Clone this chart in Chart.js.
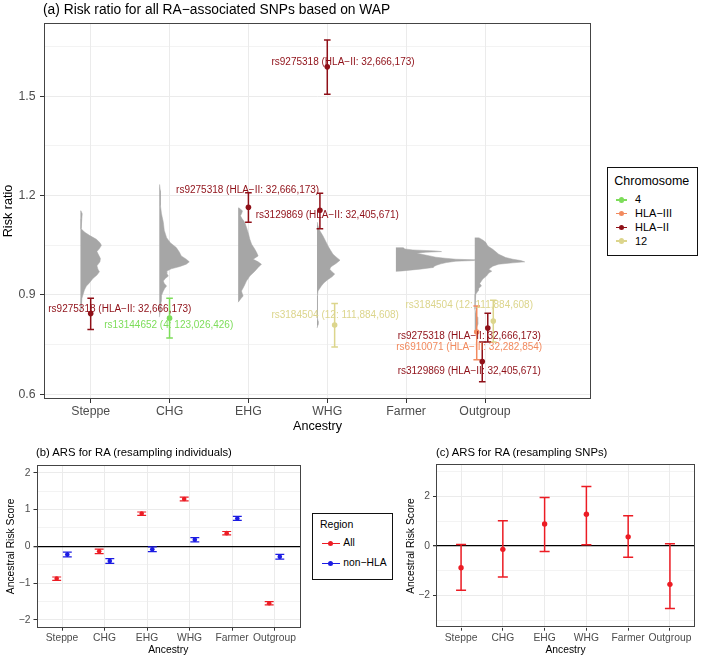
<!DOCTYPE html>
<html>
<head>
<meta charset="utf-8">
<title>Ancestral risk for RA</title>
<script src="https://cdn.jsdelivr.net/npm/chart.js@4.4.1/dist/chart.umd.min.js"></script>
<style>
  html, body { margin: 0; padding: 0; background: #fff; }
  #fig { position: relative; width: 701px; height: 661px; overflow: hidden; font-family: "Liberation Sans", Arial, sans-serif; }
  #fig canvas { position: absolute; }
  .ptitle { position: absolute; white-space: nowrap; color: #000; }
  .legend { position: absolute; box-sizing: border-box; border: 1px solid #111; background: #fff; }
  .legend div { position: absolute; white-space: nowrap; }
</style>
</head>
<body>
<div id="fig">
  <canvas id="chartA" width="600" height="440" style="left:0;top:0"></canvas>
  <canvas id="chartB" width="310" height="221" style="left:0;top:440px"></canvas>
  <canvas id="chartC" width="301" height="221" style="left:400px;top:440px"></canvas>
  <div class="ptitle" style="left:43px;top:1px;font-size:13.8px;line-height:17px">(a) Risk ratio for all RA−associated SNPs based on WAP</div>
  <div class="ptitle" style="left:36px;top:445px;font-size:11.3px;line-height:14px">(b) ARS for RA (resampling individuals)</div>
  <div class="ptitle" style="left:436px;top:445px;font-size:11.3px;line-height:14px">(c) ARS for RA (resampling SNPs)</div>
  <div id="legendA" class="legend" style="left:607px;top:167px;width:91px;height:89px"></div>
  <div id="legendB" class="legend" style="left:312px;top:513px;width:81px;height:67px"></div>
</div>
<script>
Chart.defaults.font.family = '"Liberation Sans", Arial, sans-serif';
Chart.defaults.color = '#4d4d4d';

const ancestries = ['Steppe', 'CHG', 'EHG', 'WHG', 'Farmer', 'Outgroup'];

// (a) risk ratio of the lead SNPs
const chromosomes = ['4', 'HLA−III', 'HLA−II', '12'];
const chromColors = ['#7ddd5a', '#f28a5e', '#8f1018', '#dcd58c'];
const snpIds = ['rs9275318', 'rs13144652', 'rs9275318', 'rs3129869', 'rs9275318', 'rs3184504', 'rs6910071', 'rs3129869', 'rs9275318', 'rs3184504'];
const snpChrom = ['HLA−II', '4', 'HLA−II', 'HLA−II', 'HLA−II', '12', 'HLA−III', 'HLA−II', 'HLA−II', '12'];
const snpBp = ['32,666,173', '123,026,426', '32,666,173', '32,405,671', '32,666,173', '111,884,608', '32,282,854', '32,405,671', '32,666,173', '111,884,608'];
const snpAncestry = ['Steppe', 'CHG', 'EHG', 'WHG', 'WHG', 'WHG', 'Outgroup', 'Outgroup', 'Outgroup', 'Outgroup'];
const snpRR = [0.844, 0.830, 1.165, 1.156, 1.589, 0.809, 0.788, 0.699, 0.800, 0.821];
const snpLo = [0.796, 0.770, 1.120, 1.100, 1.506, 0.743, 0.704, 0.638, 0.758, 0.758];
const snpHi = [0.890, 0.890, 1.209, 1.207, 1.670, 0.874, 0.867, 0.758, 0.845, 0.884];
// where the repelled labels ended up (axis units)
const labelX = [1.37, 1.99, 2.99, 4.0, 4.2, 4.1, 5.8, 5.8, 5.8, 5.8];
const labelY = [0.857, 0.809, 1.217, 1.141, 1.602, 0.838, 0.741, 0.670, 0.774, 0.870];
const rrMajor = [0.6, 0.9, 1.2, 1.5];
const rrMinor = [0.75, 1.05, 1.35, 1.65];

// WAP distribution per ancestry: [risk ratio, density]
const densSteppe = [[1.155, 0.4], [1.145, 1.8], [1.13, 1.4], [1.115, 0.6], [1.10, 0.8], [1.09, 4], [1.08, 9], [1.068, 16], [1.058, 19.5], [1.05, 21], [1.04, 19], [1.031, 16.5], [1.022, 18], [1.01, 20], [1.0, 19.5], [0.988, 16.5], [0.978, 17.5], [0.97, 19], [0.96, 16.5], [0.95, 12.5], [0.935, 8.5], [0.927, 6], [0.915, 4], [0.902, 2.7], [0.89, 1.5], [0.877, 1], [0.86, 0.6], [0.85, 0]];
const densCHG = [[1.234, 0.3], [1.215, 1], [1.19, 0.8], [1.17, 1.5], [1.145, 2.2], [1.12, 4], [1.095, 5], [1.073, 7.3], [1.058, 11], [1.043, 17], [1.03, 20], [1.018, 22], [1.008, 27], [1.0, 30], [0.993, 27], [0.986, 20.7], [0.979, 12], [0.972, 7.3], [0.965, 7.5], [0.957, 9], [0.95, 6], [0.942, 4], [0.935, 5], [0.927, 7.3], [0.92, 5.5], [0.912, 4], [0.897, 2], [0.88, 1.8], [0.867, 1.5], [0.85, 1], [0.833, 0]];
const densEHG = [[1.164, 0.5], [1.16, 2], [1.154, 4.3], [1.146, 3.5], [1.139, 2.3], [1.13, 4], [1.119, 6.7], [1.098, 9], [1.083, 10.5], [1.068, 11.7], [1.053, 13.5], [1.038, 16.7], [1.028, 18.5], [1.018, 20], [1.008, 15], [1.0, 20], [0.993, 23.3], [0.983, 20], [0.972, 16.7], [0.957, 11.7], [0.942, 8.3], [0.927, 6], [0.912, 3.3], [0.905, 4], [0.897, 5], [0.89, 3], [0.882, 1], [0.878, 0]];
const densWHG = [[1.12, 0.3], [1.108, 1], [1.093, 3], [1.078, 6], [1.063, 8.5], [1.048, 11], [1.035, 13.5], [1.023, 16], [1.015, 19], [1.005, 23], [0.995, 19], [0.985, 14], [0.978, 12.7], [0.97, 15], [0.963, 17.7], [0.955, 15], [0.947, 11], [0.937, 7], [0.927, 4.3], [0.912, 1], [0.897, 0.5], [0.86, 0.3], [0.83, 0.6], [0.82, 1.2], [0.81, 1], [0.80, 0]];
const densFarmer = [[1.043, 0], [1.043, 7.3], [1.039, 9], [1.036, 17], [1.033, 40], [1.031, 45.7], [1.029, 30], [1.026, 20.7], [1.022, 27], [1.018, 34], [1.014, 40], [1.011, 49], [1.008, 60], [1.006, 80], [1.004, 78], [1.002, 60], [0.998, 50.7], [0.994, 45], [0.99, 40.7], [0.986, 38], [0.983, 37.3], [0.978, 24], [0.975, 14], [0.972, 4], [0.971, 0]];
const densOutgroup = [[1.073, 0], [1.073, 4], [1.066, 8], [1.059, 11], [1.048, 13], [1.038, 18], [1.023, 24], [1.013, 31], [1.008, 38], [1.004, 46], [1.0, 50], [0.997, 38], [0.993, 24], [0.987, 18], [0.978, 14], [0.972, 17], [0.966, 14], [0.957, 11.7], [0.948, 8], [0.942, 6.7], [0.935, 5], [0.927, 6.7], [0.92, 4], [0.912, 3.3], [0.902, 1], [0.887, 0.3], [0.857, 0.3], [0.84, 1.5], [0.833, 2.5], [0.811, 3], [0.796, 1], [0.787, 0]];
const densities = [densSteppe, densCHG, densEHG, densWHG, densFarmer, densOutgroup];

// (b) ARS, resampling individuals
const regions = ['All', 'non−HLA'];
const regionColors = ['#ec1c24', '#1c1ce3'];
const arsAll = [-0.88, -0.136, 0.89, 1.29, 0.36, -1.55];
const arsAllSe = [0.045, 0.06, 0.045, 0.05, 0.045, 0.045];
const arsNonHla = [-0.22, -0.40, -0.08, 0.18, 0.76, -0.285];
const arsNonHlaSe = [0.065, 0.065, 0.065, 0.06, 0.055, 0.065];
const arsMajor = [-2, -1, 0, 1, 2];
const arsMinor = [-1.5, -0.5, 0.5, 1.5];

// (c) ARS, resampling SNPs
const arsSnp = [-0.88, -0.135, 0.89, 1.28, 0.37, -1.55];
const arsSnpLo = [-1.79, -1.25, -0.22, 0.05, -0.45, -2.52];
const arsSnpHi = [0.06, 1.02, 1.96, 2.40, 1.22, 0.09];
const snpMajor = [-2, 0, 2];
const snpMinor = [-3, -1, 1, 3];

const DODGE_A = 0.28;
const DODGE_B = 0.5;
const VIOLIN_SHIFT = -0.13;
const VIOLIN_SCALE = 1 / 78.9;

const minus = v => (v < 0 ? '−' : '') + Math.abs(v);

function dodgeX(i) {
  const same = snpAncestry.map((a, j) => j).filter(j => snpAncestry[j] === snpAncestry[i]);
  const n = same.length, k = same.indexOf(i);
  return ancestries.indexOf(snpAncestry[i]) + 1 + (k - (n - 1) / 2) * DODGE_A / n;
}

function errorBar(pts, x, lo, hi, cap) {
  pts.push({x, y: lo}, {x, y: hi}, {x, y: null},
           {x: x - cap, y: lo}, {x: x + cap, y: lo}, {x, y: null},
           {x: x - cap, y: hi}, {x: x + cap, y: hi}, {x, y: null});
  return pts;
}

function pointSet(pts, color, r) {
  return { data: pts, showLine: false, pointRadius: r, pointBorderWidth: 0,
           pointBackgroundColor: color, backgroundColor: color, borderColor: color, order: 0 };
}

function barSet(pts, color, w) {
  return { data: pts, borderColor: color, borderWidth: w, pointRadius: 0, fill: false, order: 1 };
}

function violin(profile, i) {
  const base = i + 1 + VIOLIN_SHIFT;
  return {
    type: 'line', indexAxis: 'y',
    data: profile.map(([v, d]) => ({x: base + d * VIOLIN_SCALE, y: v})),
    borderColor: '#a6a6a6', borderWidth: 0.5, backgroundColor: '#a6a6a6',
    pointRadius: 0, fill: {value: base}, order: 2
  };
}

const panelFrame = {
  id: 'panelFrame',
  afterDraw(chart) {
    const {ctx, chartArea: a} = chart;
    ctx.save();
    ctx.strokeStyle = '#444';
    ctx.lineWidth = 1;
    ctx.strokeRect(Math.round(a.left) + 0.5, Math.round(a.top) + 0.5, Math.round(a.right - a.left) - 1, Math.round(a.bottom - a.top) - 1);
    ctx.restore();
  }
};

const snpLabels = {
  id: 'snpLabels',
  afterDatasetsDraw(chart) {
    const {ctx, scales: {x, y}} = chart;
    ctx.save();
    ctx.font = '10px "Liberation Sans", Arial, sans-serif';
    ctx.textAlign = 'center';
    ctx.textBaseline = 'middle';
    snpIds.forEach((id, i) => {
      ctx.fillStyle = chromColors[chromosomes.indexOf(snpChrom[i])];
      ctx.fillText(id + ' (' + snpChrom[i] + ': ' + snpBp[i] + ')', x.getPixelForValue(labelX[i]), y.getPixelForValue(labelY[i]));
    });
    ctx.restore();
  }
};

function makeChart(id, datasets, o) {
  const yTicks = o.major.concat(o.minor).sort((a, b) => a - b);
  return new Chart(document.getElementById(id), {
    type: 'line',
    data: { datasets },
    plugins: [panelFrame].concat(o.plugins || []),
    options: {
      responsive: false, animation: false, devicePixelRatio: 1, events: [],
      layout: { padding: o.padding },
      plugins: { legend: { display: false }, tooltip: { enabled: false } },
      scales: {
        x: {
          type: 'linear', min: o.xMin, max: o.xMax,
          afterBuildTicks: s => { s.ticks = ancestries.map((a, i) => ({value: i + 1})); },
          afterFit: s => { s.height = o.xHeight; },
          ticks: { autoSkip: false, maxRotation: 0, minRotation: 0, padding: o.xTickPad, color: '#4d4d4d',
                   font: { size: o.tickSize }, callback: v => ancestries[v - 1] },
          grid: { color: '#ebebeb', lineWidth: 1, tickColor: '#333', tickLength: o.tickLen },
          border: { display: false },
          title: { display: true, text: 'Ancestry', color: '#000', font: { size: o.titleSize },
                   padding: { top: 0, bottom: o.xTitlePad } }
        },
        y: {
          type: 'linear', min: o.yMin, max: o.yMax,
          afterBuildTicks: s => { s.ticks = yTicks.map(v => ({value: v})); },
          afterFit: s => { s.width = o.yWidth; },
          ticks: { autoSkip: false, padding: o.yTickPad, color: '#4d4d4d', font: { size: o.tickSize },
                   callback: v => o.major.includes(v) ? o.fmt(v) : '' },
          grid: {
            color: c => (o.zero && c.tick && c.tick.value === 0) ? '#000' : '#ebebeb',
            lineWidth: c => !c.tick ? 1 : (o.zero && c.tick.value === 0) ? 1.3 : o.major.includes(c.tick.value) ? 1 : 0.6,
            tickColor: c => (c.tick && o.major.includes(c.tick.value)) ? '#333' : 'rgba(0,0,0,0)',
            tickLength: o.tickLen
          },
          border: { display: false },
          title: { display: true, text: o.yTitle, color: '#000', font: { size: o.titleSize },
                   padding: { top: o.yTitlePad, bottom: 0 } }
        }
      }
    }
  });
}

// panel (a)
const setsA = [];
snpIds.forEach((id, i) => {
  const col = chromColors[chromosomes.indexOf(snpChrom[i])];
  const x = dodgeX(i);
  setsA.push(pointSet([{x, y: snpRR[i]}], col, 2.8));
  setsA.push(barSet(errorBar([], x, snpLo[i], snpHi[i], 0.042), col, 1.5));
});
densities.forEach((d, i) => setsA.push(violin(d, i)));

makeChart('chartA', setsA, {
  padding: { left: 0, right: 9, top: 23, bottom: 0 },
  xMin: 0.408, xMax: 7.344, yMin: 0.5858, yMax: 1.7214,
  major: rrMajor, minor: rrMinor, fmt: v => v.toFixed(1), zero: false,
  xHeight: 41, yWidth: 44, tickLen: 4, tickSize: 12.3, titleSize: 12.6,
  xTickPad: 1, yTickPad: 4.5, xTitlePad: 5.7, yTitlePad: 1.4,
  yTitle: 'Risk ratio', plugins: [snpLabels]
});

// panel (b)
const setsB = [];
[arsAll, arsNonHla].forEach((vals, r) => {
  const se = r === 0 ? arsAllSe : arsNonHlaSe;
  const xs = vals.map((v, i) => i + 1 + (r - 0.5) * DODGE_B / 2);
  const bars = [];
  xs.forEach((x, i) => errorBar(bars, x, vals[i] - se[i], vals[i] + se[i], 0.105));
  setsB.push(pointSet(xs.map((x, i) => ({x, y: vals[i]})), regionColors[r], 2.3));
  setsB.push(barSet(bars, regionColors[r], 1.2));
});

makeChart('chartB', setsB, {
  padding: { left: 0, right: 10, top: 25, bottom: 0 },
  xMin: 0.4, xMax: 6.6, yMin: -2.215, yMax: 2.215,
  major: arsMajor, minor: arsMinor, fmt: minus, zero: true,
  xHeight: 33.3, yWidth: 36.5, tickLen: 3, tickSize: 10.3, titleSize: 10.3,
  xTickPad: 1.5, yTickPad: 3, xTitlePad: 4.8, yTitlePad: 4.8,
  yTitle: 'Ancestral Risk Score'
});

// panel (c)
const barsC = [];
arsSnp.forEach((v, i) => errorBar(barsC, i + 1, arsSnpLo[i], arsSnpHi[i], 0.12));
makeChart('chartC', [
  pointSet(arsSnp.map((v, i) => ({x: i + 1, y: v})), regionColors[0], 2.7),
  barSet(barsC, regionColors[0], 1.5)
], {
  padding: { left: 0, right: 6, top: 24.3, bottom: 0 },
  xMin: 0.4, xMax: 6.6, yMin: -3.3, yMax: 3.3,
  major: snpMajor, minor: snpMinor, fmt: minus, zero: true,
  xHeight: 33.3, yWidth: 36, tickLen: 3, tickSize: 10.3, titleSize: 10.3,
  xTickPad: 1.5, yTickPad: 3, xTitlePad: 4.8, yTitlePad: 4.8,
  yTitle: 'Ancestral Risk Score'
});

// legends
function buildLegend(id, title, names, colors, g) {
  const box = document.getElementById(id);
  const add = (text, css) => {
    const d = document.createElement('div');
    d.textContent = text;
    Object.assign(d.style, css);
    box.appendChild(d);
  };
  add(title, { left: g.titleLeft + 'px', top: (g.titleMid - g.titleSize * 0.6) + 'px', fontSize: g.titleSize + 'px',
               lineHeight: (g.titleSize * 1.2) + 'px', color: '#000' });
  names.forEach((n, i) => {
    const mid = g.firstMid + i * g.step;
    add('', { left: g.keyLeft + 'px', top: (mid - 0.75) + 'px', width: g.keyWidth + 'px', height: '1.5px', background: colors[i] });
    add('', { left: (g.keyLeft + g.keyWidth / 2 - g.dot) + 'px', top: (mid - g.dot) + 'px', width: 2 * g.dot + 'px',
              height: 2 * g.dot + 'px', borderRadius: '50%', background: colors[i] });
    add(n, { left: g.textLeft + 'px', top: (mid - g.itemSize * 0.6) + 'px', fontSize: g.itemSize + 'px',
             lineHeight: (g.itemSize * 1.2) + 'px', color: '#000' });
  });
}

buildLegend('legendA', 'Chromosome', chromosomes, chromColors, {
  titleLeft: 6.3, titleMid: 13, titleSize: 12.5, firstMid: 32, step: 13.7,
  keyLeft: 8, keyWidth: 11, dot: 2.7, textLeft: 27, itemSize: 11
});
buildLegend('legendB', 'Region', regions, regionColors, {
  titleLeft: 7, titleMid: 10.3, titleSize: 10.5, firstMid: 29.3, step: 20,
  keyLeft: 8.7, keyWidth: 18.3, dot: 2.5, textLeft: 30.3, itemSize: 10.3
});
</script>
</body>
</html>
